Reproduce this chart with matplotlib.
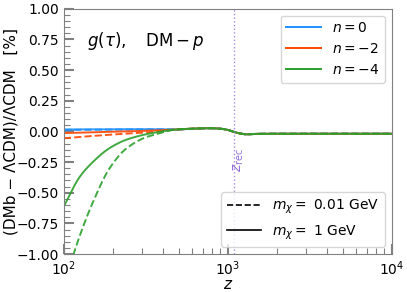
import numpy as np
import matplotlib.pyplot as plt
from matplotlib.lines import Line2D
from matplotlib.ticker import MultipleLocator

# --- Data (z, relative difference in %) ---
z_pts = [100, 125, 150, 190, 240, 320, 350, 480, 600, 780, 900, 1000, 1090, 1200, 1300, 1500, 2000, 4000, 10000]

# tail common to all curves (z >= 480)
tail = [0.015, 0.022, 0.026, 0.022, 0.012, -0.005, -0.018, -0.024, -0.02, -0.019, -0.019, -0.019]

n0_heavy = [0.016, 0.016, 0.017, 0.017, 0.018, 0.018, 0.018] + tail
n0_light = [0.012, 0.013, 0.014, 0.015, 0.016, 0.017, 0.017] + tail
n2_heavy = [-0.014, -0.010, -0.007, -0.003, 0.000, 0.005, 0.007] + tail
n2_light = [-0.056, -0.045, -0.037, -0.027, -0.018, -0.008, -0.005] + tail
n4_heavy = [-0.61, -0.37, -0.25, -0.136, -0.068, -0.022, -0.012] + tail
n4_light = [-1.25, -0.85, -0.58, -0.30, -0.14, -0.045, -0.03] + tail

z_rec = 1090

colors = ['#1e90ff', '#ff4500', '#2ca02c']
labels = [r'$n=0$', r'$n=-2$', r'$n=-4$']


def pchip(x, y, xx):
    # monotone cubic Hermite interpolation (Fritsch-Carlson)
    x = np.asarray(x, float)
    y = np.asarray(y, float)
    h = np.diff(x)
    d = np.diff(y) / h
    m = np.zeros_like(y)
    for i in range(1, len(y) - 1):
        if d[i - 1] * d[i] > 0:
            w1 = 2 * h[i] + h[i - 1]
            w2 = h[i] + 2 * h[i - 1]
            m[i] = (w1 + w2) / (w1 / d[i - 1] + w2 / d[i])
    m[0], m[-1] = d[0], d[-1]
    idx = np.clip(np.searchsorted(x, xx) - 1, 0, len(h) - 1)
    t = (xx - x[idx]) / h[idx]
    h00 = 2 * t**3 - 3 * t**2 + 1
    h10 = t**3 - 2 * t**2 + t
    h01 = -2 * t**3 + 3 * t**2
    h11 = t**3 - t**2
    return h00 * y[idx] + h10 * h[idx] * m[idx] + h01 * y[idx + 1] + h11 * h[idx] * m[idx + 1]


def curve(x, y):
    lx = np.log10(x)
    xx = np.linspace(lx[0], lx[-1], 800)
    return 10 ** xx, pchip(lx, y, xx)


fig, ax = plt.subplots(figsize=(4.07, 2.92), dpi=100)

curves = [(n0_heavy, n0_light), (n2_heavy, n2_light), (n4_heavy, n4_light)]
for (heavy, light), c in zip(curves, colors):
    x, y = curve(z_pts, light)
    ax.plot(x, y, color=c, ls='--', lw=1.4, alpha=0.9)
    x, y = curve(z_pts, heavy)
    ax.plot(x, y, color=c, ls='-', lw=1.4, alpha=0.9)

ax.axvline(z_rec, color='mediumpurple', ls=':', lw=1, alpha=0.8)
ax.text(z_rec * 1.07, -0.23, r'$z_{\rm rec}$', color='mediumpurple', rotation=90,
        fontsize=10, ha='center', va='center')

ax.set_xscale('log')
ax.set_xlim(100, 1e4)
ax.set_ylim(-1, 1)
ax.yaxis.set_major_locator(MultipleLocator(0.25))
ax.yaxis.set_minor_locator(MultipleLocator(0.05))
ax.tick_params(which='both', direction='in', colors='0.5', labelcolor='black', labelsize=10)
ax.tick_params(which='major', length=7, width=1.5)
ax.tick_params(which='minor', length=4, width=0.8)
ax.tick_params(axis='x', which='major', pad=4)
for s in ax.spines.values():
    s.set_color('0.5')

ax.set_xlabel(r'$z$', fontsize=11, va='center')
ax.xaxis.set_label_coords(0.5, -0.125)
ax.set_ylabel('(DMb \u2212 \u039bCDM)/\u039bCDM   [%]', fontsize=11, va='center')
ax.yaxis.set_label_coords(-0.16, 0.5)
ax.text(0.07, 0.85, r'$g(\tau),\quad \mathrm{DM}-p$', transform=ax.transAxes, fontsize=12)

h1 = [Line2D([], [], color=c, lw=1.4) for c in colors]
leg1 = ax.legend(h1, labels, loc='upper right', fontsize=10, handlelength=2.5)
ax.add_artist(leg1)
h2 = [Line2D([], [], color='k', ls='--', lw=1.2), Line2D([], [], color='k', ls='-', lw=1.2)]
ax.legend(h2, [r'$m_\chi =$ 0.01 GeV', r'$m_\chi =$ 1 GeV'], loc='lower right', fontsize=10, handlelength=2.5)

fig.subplots_adjust(left=0.157, right=0.963, top=0.97, bottom=0.13)
fig.savefig('out.png', dpi=100)
